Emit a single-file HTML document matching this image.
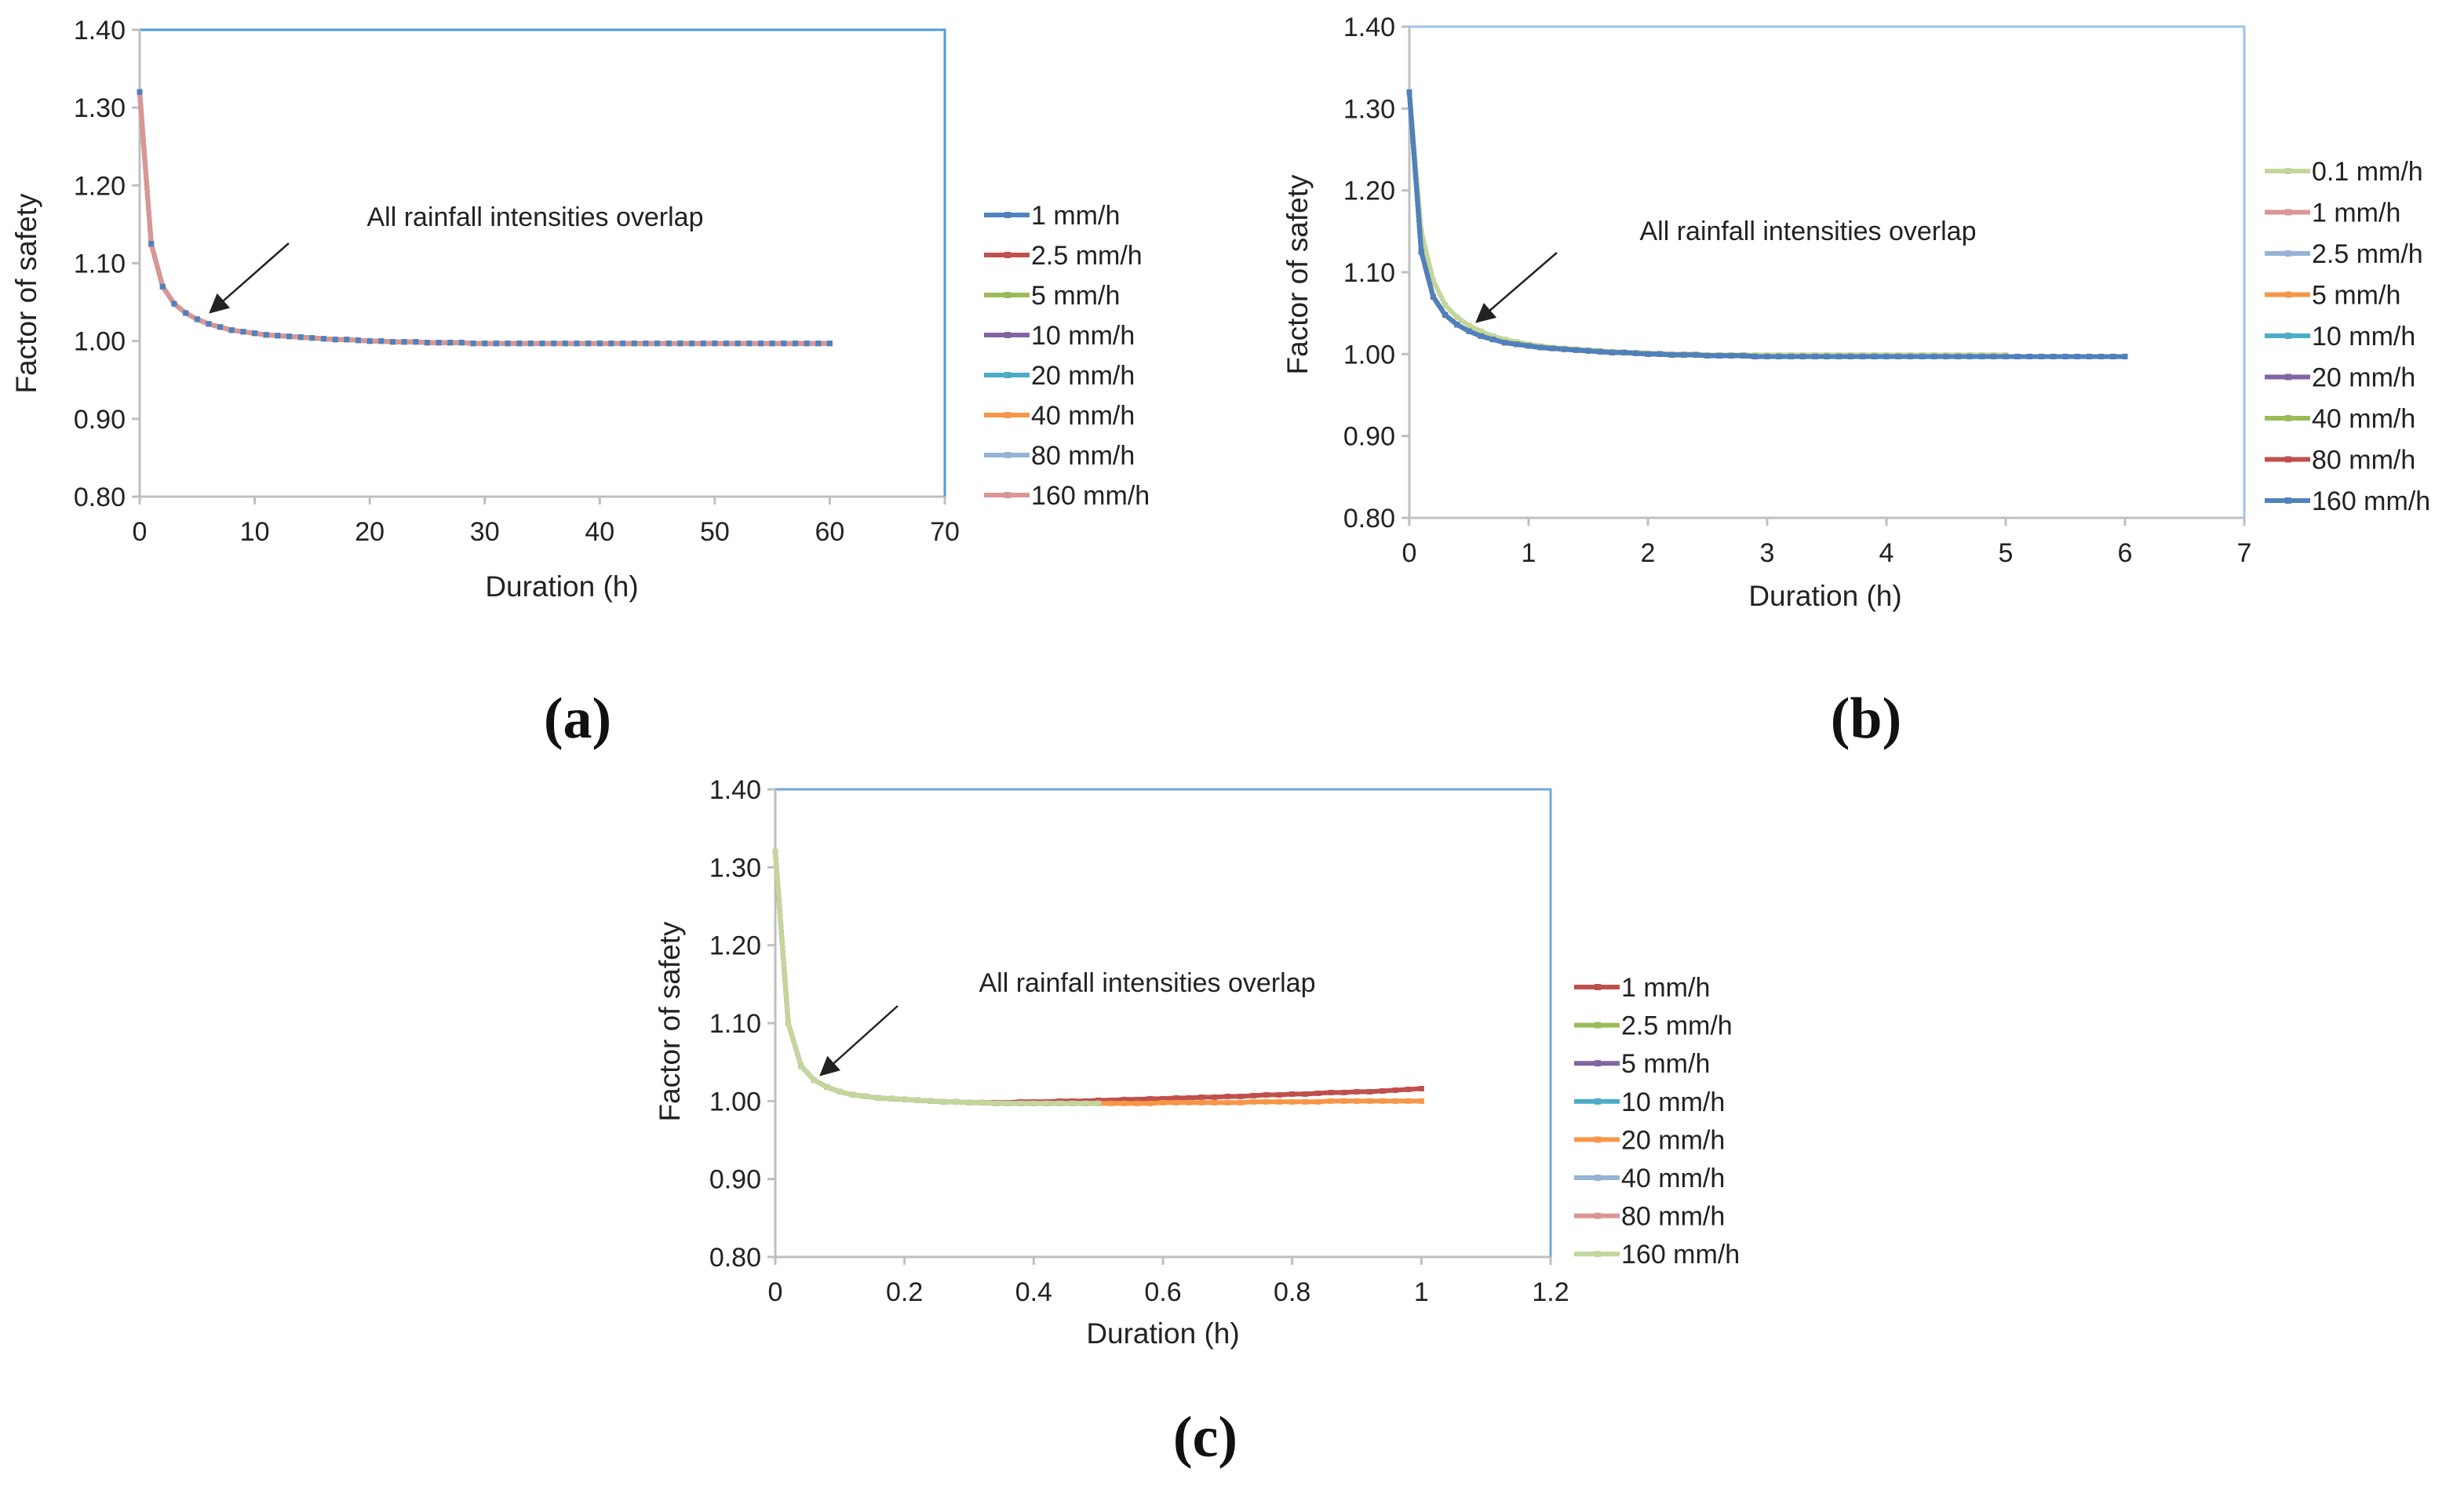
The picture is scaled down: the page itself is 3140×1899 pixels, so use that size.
<!DOCTYPE html>
<html><head><meta charset="utf-8">
<style>
html,body{margin:0;padding:0;background:#fff;}
svg{display:block;}
text{font-family:"Liberation Sans",Arial,sans-serif;fill:#222;}
.tick{font-size:34px;}
.ttl{font-size:37px;}
.lab{font-family:"Liberation Serif",serif;font-size:74px;font-weight:bold;fill:#111;}
</style></head>
<body>
<svg id="fig" width="3140" height="1899" viewBox="0 0 3140 1899" xmlns="http://www.w3.org/2000/svg">
<defs><marker id="ah" markerWidth="10" markerHeight="10" refX="9" refY="5" orient="auto"><path d="M0,0 L10,5 L0,10 z" fill="#222"/></marker></defs>
</svg>
<script>
// ---------- Panel (a) data ----------
const aTimes = Array.from({length:61},(_, i)=>i);
const aValues = [1.320,1.125,1.070,1.048,1.036,1.028,1.022,1.018,1.014,1.012,1.010,1.008,1.007,1.006,1.005,1.004,1.003,1.002,1.002,1.001,1.000,1.000,0.999,0.999,0.999,0.998,0.998,0.998,0.998,0.997,
0.997,0.997,0.997,0.997,0.997,0.997,0.997,0.997,0.997,0.997,0.997,0.997,0.997,0.997,0.997,0.997,0.997,0.997,0.997,0.997,0.997,0.997,0.997,0.997,0.997,0.997,0.997,0.997,0.997,0.997,0.997];
const aSeriesNames = ["1 mm/h","2.5 mm/h","5 mm/h","10 mm/h","20 mm/h","40 mm/h","80 mm/h","160 mm/h"];
const aXTicks = [0,10,20,30,40,50,60,70];
// ---------- Panel (b) data ----------
const bTimes = Array.from({length:61},(_, i)=>i/10);
const bValues = [1.320,1.125,1.070,1.048,1.036,1.028,1.022,1.018,1.014,1.012,1.010,1.008,1.007,1.006,1.005,1.004,1.003,1.002,1.002,1.001,1.000,1.000,0.999,0.999,0.999,0.998,0.998,0.998,0.998,0.997,
0.997,0.997,0.997,0.997,0.997,0.997,0.997,0.997,0.997,0.997,0.997,0.997,0.997,0.997,0.997,0.997,0.997,0.997,0.997,0.997,0.997,0.997,0.997,0.997,0.997,0.997,0.997,0.997,0.997,0.997,0.997];
const bLowTimes = Array.from({length:51},(_, i)=>i/10);
const bLowValues = [1.320,1.150,1.090,1.060,1.045,1.035,1.028,1.022,1.018,1.015,1.012,1.010,1.008,1.007,1.006,1.005,1.004,1.003,1.002,1.002,1.001,1.001,1.000,1.000,1.000,0.999,0.999,0.999,0.999,0.999,
0.999,0.999,0.999,0.999,0.999,0.999,0.999,0.999,0.999,0.999,0.999,0.999,0.999,0.999,0.999,0.999,0.999,0.999,0.999,0.999,0.999];
const bSeriesNames = ["0.1 mm/h","1 mm/h","2.5 mm/h","5 mm/h","10 mm/h","20 mm/h","40 mm/h","80 mm/h","160 mm/h"];
const bXTicks = [0,1,2,3,4,5,6,7];
// ---------- Panel (c) data ----------
const cTimes = Array.from({length:51},(_, i)=>i*0.02);
const cBaseValues = [1.320,1.100,1.045,1.027,1.018,1.012,1.008,1.006,1.004,1.003,1.002,1.001,1.000,0.999,0.999,0.998,0.998,0.997,0.997,0.997,0.997,0.997,0.997,0.997,0.997,0.997];
const cRedValues = [1.320,1.100,1.045,1.027,1.018,1.012,1.008,1.006,1.004,1.003,1.002,1.001,1.000,0.999,0.999,
0.998,0.998,0.998,0.998,0.999,0.999,0.999,1.000,1.000,1.000,1.001,1.001,1.002,1.002,1.003,1.003,1.004,1.004,1.005,1.005,1.006,1.006,1.007,1.008,1.008,1.009,1.009,1.010,1.011,1.011,1.012,1.012,1.013,1.014,1.015,1.016];
const cOrangeValues = [1.320,1.100,1.045,1.027,1.018,1.012,1.008,1.006,1.004,1.003,1.002,1.001,1.000,0.999,0.999,0.998,0.998,0.997,0.997,0.997,0.997,0.997,0.997,0.997,0.997,0.997,
0.997,0.997,0.997,0.997,0.998,0.998,0.998,0.998,0.998,0.998,0.998,0.999,0.999,0.999,0.999,0.999,0.999,1.000,1.000,1.000,1.000,1.000,1.000,1.000,1.000];
const cSeriesNames = ["1 mm/h","2.5 mm/h","5 mm/h","10 mm/h","20 mm/h","40 mm/h","80 mm/h","160 mm/h"];
const cXTicks = [0,0.2,0.4,0.6,0.8,1,1.2];
const yTicks = [0.80,0.90,1.00,1.10,1.20,1.30,1.40];

const C = {blue:"#4f81bd",red:"#c0504d",green:"#9bbb59",purple:"#8064a2",teal:"#4bacc6",orange:"#f79646",lblue:"#95b3d7",pink:"#d99694",lgreen:"#c3d69b"};
const NS="http://www.w3.org/2000/svg";
const svg=document.getElementById('fig');
function el(tag,attrs,parent,txt){const e=document.createElementNS(NS,tag);for(const k in attrs)e.setAttribute(k,attrs[k]);if(txt!==undefined)e.textContent=txt;(parent||svg).appendChild(e);return e;}

function panel(p){
  const g=el('g',{});
  
  
  const X=v=>p.L+(v-p.xmin)/(p.xmax-p.xmin)*(p.R-p.L);
  const Y=v=>p.B-(v-0.8)/(0.6)*(p.B-p.T);
  const fr=el('path',{d:`M${p.L},${p.T} L${p.R},${p.T} L${p.R},${p.B}`,stroke:p.frame,'stroke-width':3,fill:'none'},g);
  
  
  const ax=el('path',{d:`M${p.L},${p.T} L${p.L},${p.B} L${p.R},${p.B}`,stroke:'#bfbfbf','stroke-width':3,fill:'none'},g);
  
  
  yTicks.forEach(v=>{
    el('line',{x1:p.L-10,x2:p.L,y1:Y(v),y2:Y(v),stroke:'#bfbfbf','stroke-width':3},g);
    const t=el('text',{x:p.L-18,y:Y(v)+12,'text-anchor':'end',class:'tick'},g,v.toFixed(2));
    
    
  });
  p.xt.forEach(v=>{
    el('line',{x1:X(v),x2:X(v),y1:p.B,y2:p.B+10,stroke:'#bfbfbf','stroke-width':3},g);
    const t=el('text',{x:X(v),y:p.B+56,'text-anchor':'middle',class:'tick'},g,String(v));
    
    
  });
  const xt=el('text',{x:p.xtx,y:p.xty,'text-anchor':'middle',class:'ttl'},g,'Duration  (h)');
  
  
  const yt=el('text',{x:0,y:0,'text-anchor':'middle',class:'ttl',transform:`translate(${p.ytx},${p.yty}) rotate(-90)`},g,'Factor of safety');
  
  
  p.series.forEach(s=>{
    const d=s.t.map((t,i)=>(i?'L':'M')+X(t).toFixed(1)+','+Y(s.v[i]).toFixed(1)).join(' ');
    const path=el('path',{d:d,stroke:s.c,'stroke-width':6,fill:'none','stroke-linejoin':'round'},g);
    
    
    s.t.forEach((t,i)=>{
      const m=el('rect',{x:X(t)-3.5,y:Y(s.v[i])-3.5,width:7,height:7,fill:s.m||s.c},g);
      
      
    });
  });
  p.names.forEach((n,i)=>{
    const y=p.ly+i*p.lstep;
    const lg=el('g',{},g);
    
    
    el('line',{x1:p.lx,x2:p.lx+58,y1:y,y2:y,stroke:p.lcol[i],'stroke-width':6},lg);
    el('rect',{x:p.lx+26,y:y-4,width:8,height:8,fill:p.lcol[i]},lg);
    el('text',{x:p.lx+60,y:y+12,class:'tick'},lg,n);
  });
  const an=el('text',{x:p.ax,y:p.ay,'text-anchor':'middle',class:'tick'},g,'All rainfall intensities overlap');
  
  
  const ar=el('line',{x1:p.a1[0],y1:p.a1[1],x2:p.a2[0],y2:p.a2[1],stroke:'#222','stroke-width':2.5,'marker-end':'url(#ah)'},g);
  
  
  const lb=el('text',{x:p.lbx,y:p.lby,'text-anchor':'middle',class:'lab'},g,p.lab);
  
  
}

const aCols=[C.blue,C.red,C.green,C.purple,C.teal,C.orange,C.lblue,C.pink];
panel({id:'a',L:178,R:1204,T:38,B:633,xmin:0,xmax:70,xt:aXTicks,frame:'#4a9be0',
  series:aCols.map((c,i)=>({t:aTimes,v:aValues,c:c,m:i===7?C.blue:c})),
  names:aSeriesNames,lcol:aCols,lx:1254,ly:274,lstep:51,
  ax:682,ay:288,a1:[368,310],a2:[268,398],xtx:716,xty:760,ytx:46,yty:374,lbx:736,lby:940,lab:'(a)'});

const bCols=[C.lgreen,C.pink,C.lblue,C.orange,C.teal,C.purple,C.green,C.red,C.blue];
panel({id:'b',L:1796,R:2860,T:34,B:660,xmin:0,xmax:7,xt:bXTicks,frame:'#9dc3e6',
  series:bCols.map((c,i)=>i===0?{t:bLowTimes,v:bLowValues,c:c}:{t:bTimes,v:bValues,c:c}),
  names:bSeriesNames,lcol:bCols,lx:2886,ly:218,lstep:52.5,
  ax:2304,ay:306,a1:[1984,322],a2:[1882,410],xtx:2326,xty:772,ytx:1666,yty:350,lbx:2378,lby:940,lab:'(b)'});

const cCols=[C.red,C.green,C.purple,C.teal,C.orange,C.lblue,C.pink,C.lgreen];
const cShort=cTimes.slice(0,26);
panel({id:'c',L:988,R:1976,T:1006,B:1602,xmin:0,xmax:1.2,xt:cXTicks,frame:'#6fa8dc',
  series:cCols.map((c,i)=>i===0?{t:cTimes,v:cRedValues,c:c}:i===4?{t:cTimes,v:cOrangeValues,c:c}:{t:cShort,v:cBaseValues,c:c}),
  names:cSeriesNames,lcol:cCols,lx:2006,ly:1258,lstep:48.6,
  ax:1462,ay:1264,a1:[1144,1282],a2:[1046,1370],xtx:1482,xty:1712,ytx:866,yty:1302,lbx:1536,lby:1856,lab:'(c)'});
</script>
</body></html>
